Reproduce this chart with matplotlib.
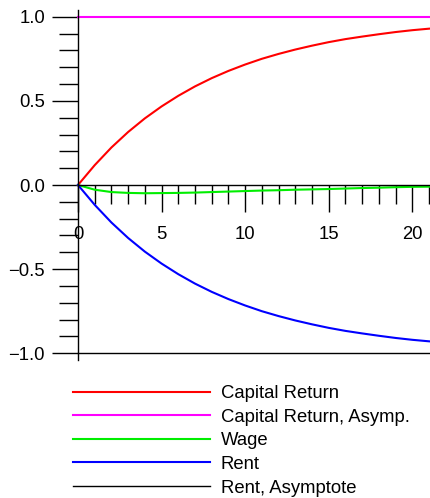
import matplotlib
matplotlib.use("Agg")
import matplotlib.pyplot as plt
from matplotlib.ticker import MultipleLocator, FuncFormatter

plt.rcParams['font.family'] = ['Liberation Sans', 'DejaVu Sans']

t = list(range(0, 22))
capital_return = [0.000, 0.118, 0.223, 0.315, 0.396, 0.467, 0.530, 0.586, 0.635, 0.678,
                  0.716, 0.750, 0.779, 0.805, 0.828, 0.849, 0.867, 0.882, 0.896, 0.909,
                  0.920, 0.929]
capital_return_asymp = [1.0] * len(t)
wage = [0.000, -0.028, -0.042, -0.047, -0.049, -0.048, -0.047, -0.045, -0.042, -0.039,
        -0.036, -0.033, -0.031, -0.028, -0.026, -0.024, -0.021, -0.018, -0.016, -0.013,
        -0.011, -0.010]
rent = [0.000, -0.118, -0.223, -0.315, -0.396, -0.467, -0.530, -0.586, -0.635, -0.678,
        -0.716, -0.750, -0.779, -0.805, -0.828, -0.849, -0.867, -0.882, -0.896, -0.909,
        -0.920, -0.929]
rent_asymp = [-1.0] * len(t)
x_ticks = [0, 5, 10, 15, 20]
y_ticks = [-1.0, -0.5, 0.0, 0.5, 1.0]

series = [
    ("Capital Return", capital_return, "#ff0000", 1.5),
    ("Capital Return, Asymp.", capital_return_asymp, "#ff00ff", 1.5),
    ("Wage", wage, "#00ee00", 1.5),
    ("Rent", rent, "#0000ff", 1.5),
    ("Rent, Asymptote", rent_asymp, "#000000", 1.0),
]

fig = plt.figure(figsize=(4.30, 4.98), dpi=100)
ax = fig.add_axes([78/430, 1-360/498, 351/430, 350/498])

for label, vals, color, lw in series:
    ax.plot(t, vals, color=color, lw=lw, label=label, clip_on=False)

ax.set_xlim(0, 21)
ax.set_ylim(-1.04, 1.04)

ax.spines['top'].set_visible(False)
ax.spines['right'].set_visible(False)
ax.spines['left'].set_position(('data', 0))
ax.spines['bottom'].set_position(('data', 0))
for s in ('left', 'bottom'):
    ax.spines[s].set_linewidth(1.0)
    ax.spines[s].set_color('black')

ax.xaxis.set_minor_locator(MultipleLocator(1))
ax.yaxis.set_minor_locator(MultipleLocator(0.1))
ax.set_xticks(x_ticks)
ax.set_yticks(y_ticks)
ax.yaxis.set_major_formatter(FuncFormatter(lambda v, p: f"{v:.1f}".replace("-", "\u2212")))

ax.tick_params(axis='x', which='major', direction='out', length=19.5, width=1.0, pad=10, labelsize=13.3)
ax.tick_params(axis='x', which='minor', direction='out', length=13.7, width=1.0)
ax.tick_params(axis='y', which='major', direction='out', length=18.7, width=1.0, pad=5, labelsize=13.3)
ax.tick_params(axis='y', which='minor', direction='out', length=13.7, width=1.0)

ax.patch.set_visible(False)

fig.legend(loc='upper left', bbox_to_anchor=(73/430, 1-385/498), frameon=False,
           borderpad=0, borderaxespad=0, handlelength=7.4, handletextpad=0.6,
           labelspacing=0.36, fontsize=13.3)

fig.savefig("out.png", dpi=100)
